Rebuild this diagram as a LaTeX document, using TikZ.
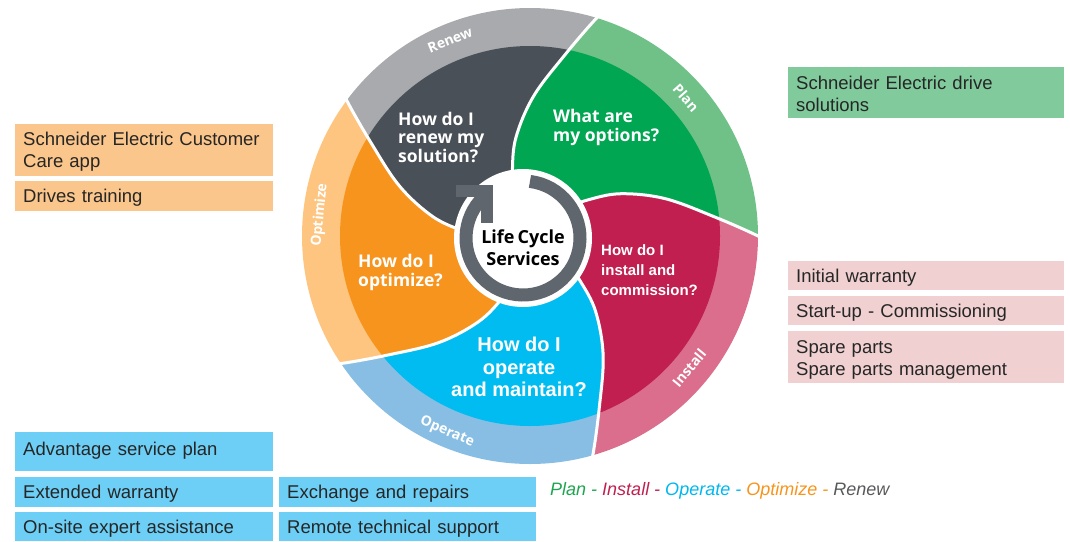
\documentclass[tikz,border=0pt]{standalone}
\usepackage{fontspec}
\setmainfont{Liberation Sans}
\newfontfamily\wheelfont{Open Sans}
\definecolor{txt}{HTML}{262626}
\definecolor{boxO}{HTML}{FBC68B}
\definecolor{boxG}{HTML}{80CA9C}
\definecolor{boxP}{HTML}{F0D0D0}
\definecolor{boxB}{HTML}{6DCFF6}
\definecolor{planD}{HTML}{00A651}
\definecolor{planL}{HTML}{70C188}
\definecolor{renD}{HTML}{4A5058}
\definecolor{renL}{HTML}{A8AAAD}
\definecolor{optD}{HTML}{F7941D}
\definecolor{optL}{HTML}{FDC57F}
\definecolor{opeD}{HTML}{00BCF1}
\definecolor{opeL}{HTML}{89BEE4}
\definecolor{insD}{HTML}{C01F50}
\definecolor{insL}{HTML}{DB6E8C}
\definecolor{ringG}{HTML}{5F666D}
\definecolor{legPlan}{HTML}{1EA550}
\definecolor{legIns}{HTML}{C0204F}
\definecolor{legOpe}{HTML}{00B7F0}
\definecolor{legOpt}{HTML}{F7941D}
\definecolor{legRen}{HTML}{58595B}
\newcommand\mySpiral[1]{plot[smooth,tension=0.6] coordinates {({#1-2.5}:245) ({#1}:228) ({#1+6}:185) ({#1+15.5}:140) ({#1+25}:100) ({#1+32}:68) ({#1+38}:45)}}
\newcommand\mySeg[2]{plot[smooth,tension=0.6] coordinates {({#1-2.5}:245) ({#1}:228) ({#1+6}:185) ({#1+15.5}:140) ({#1+25}:100) ({#1+32}:68) ({#1+38}:45)} -- (0,0) -- plot[smooth,tension=0.6] coordinates {({#2+38}:45) ({#2+32}:68) ({#2+25}:100) ({#2+15.5}:140) ({#2+6}:185) ({#2}:228) ({#2-2.5}:245)} arc[start angle={#2-2.5}, end angle={#1-2.5}, radius=245] -- cycle}
\begin{document}
\begin{tikzpicture}[x=1pt,y=1pt,
  box/.style={anchor=north west, inner xsep=8pt, inner ysep=0pt, align=left, text=txt, font=\fontsize{18.5}{22}\selectfont},
  one/.style={text depth=0pt},
  two/.style={text height=17pt},
  lbox/.style={box, text width=242pt},
  rbox/.style={box, text width=260pt},
  wq/.style={anchor=west, align=left, text=white, inner sep=0pt},
  bandlab/.style={text=white, inner sep=0pt, font=\wheelfont\bfseries\fontsize{14}{16}\selectfont}
]
\useasboundingbox (0,0) rectangle (1070,-541);

% ---- wheel ----
\begin{scope}[shift={(530,-236)}]
  \begin{scope}
    \clip (0,0) circle[radius=228];
    \fill[planL] \mySeg{0}{73};
    \fill[renL] \mySeg{73}{143.5};
    \fill[optL] \mySeg{143.5}{214};
    \fill[opeL] \mySeg{214}{286};
    \fill[insL] \mySeg{286}{360};
  \end{scope}
  \begin{scope}
    \clip (0,0) circle[radius=190];
    \fill[planD] \mySeg{0}{73};
    \fill[renD] \mySeg{73}{143.5};
    \fill[optD] \mySeg{143.5}{214};
    \fill[opeD] \mySeg{214}{286};
    \fill[insD] \mySeg{286}{360};
  \end{scope}
  \foreach \t in {0,73,143.5,214,286} \draw[white, line width=3] \mySpiral{\t};
  \fill[white] (-7,-2) circle[radius=69];
  \draw[ringG, line width=13] (-7,-2) ++(83:57) arc[start angle=83, end angle=-232, radius=57];
  \draw[ringG, line width=12, line join=miter] (-74,45) -- (-43,45) -- (-43,13);
\end{scope}

% ---- band labels ----
\node[bandlab, rotate=22] (lren) at (450,-40) {Renew};
\node[bandlab, rotate=-48.5] (lplan) at (686,-98) {Plan};
\node[bandlab, rotate=84.3] (lopt) at (320,-215) {Optimize};
\node[bandlab, rotate=50.3] (lins) at (689,-368) {Install};
\node[bandlab, rotate=-23] (lope) at (447,-432) {Operate};

% ---- wheel texts ----
\node[font=\wheelfont\bfseries\fontsize{18}{22}\selectfont, align=center, inner sep=0pt, text=black] (lcs) at (523,-248) {Life\,Cycle\\Services};
\node[wq, font=\wheelfont\bfseries\fontsize{17.5}{18.5}\selectfont] (qren) at (398,-137) {How do I\\renew my\\solution?};
\node[wq, font=\wheelfont\bfseries\fontsize{17.5}{19}\selectfont] (qplan) at (553,-127.5) {What are\\my options?};
\node[wq, font=\wheelfont\bfseries\fontsize{17.5}{19}\selectfont] (qopt) at (358,-272.5) {How do I\\optimize?};
\node[wq, font=\bfseries\fontsize{15}{20}\selectfont] (qins) at (601,-270) {How do I\\install and\\commission?};
\node[align=center, text=white, inner sep=0pt, font=\bfseries\fontsize{20}{22.5}\selectfont] (qope) at (519,-367) {How do I\\operate\\and maintain?};

% ---- boxes ----
\node[lbox, two, fill=boxO, minimum height=52pt] (o1) at (15,-124) {Schneider Electric Customer\\Care app};
\node[lbox, one, fill=boxO, minimum height=30pt] (o2) at (15,-181) {Drives training};
\node[rbox, fill=boxG, minimum height=51pt, text height=15.5pt] (g1) at (788,-67) {Schneider Electric drive\\solutions};
\node[rbox, one, fill=boxP, minimum height=29pt] (p1) at (788,-261) {Initial warranty};
\node[rbox, one, fill=boxP, minimum height=29pt] (p2) at (788,-296) {Start-up - Commissioning};
\node[rbox, fill=boxP, minimum height=52pt, text height=18pt] (p3) at (788,-331) {Spare parts\\Spare parts management};
\node[lbox, fill=boxB, minimum height=39pt, text depth=6pt] (b1) at (15,-432) {Advantage service plan};
\node[lbox, one, fill=boxB, minimum height=30pt] (b2) at (15,-477) {Extended warranty};
\node[box, one, text width=241pt, fill=boxB, minimum height=30pt] (b3) at (279,-477) {Exchange and repairs};
\node[lbox, one, fill=boxB, minimum height=29pt] (b4) at (15,-512) {On-site expert assistance};
\node[box, one, text width=241pt, fill=boxB, minimum height=29pt] (b5) at (279,-512) {Remote technical support};

% ---- legend ----
\node[anchor=west, inner sep=0pt, font=\itshape\fontsize{18}{22}\selectfont] (legend) at (550,-491)
  {\textcolor{legPlan}{Plan -} \textcolor{legIns}{Install -} \textcolor{legOpe}{Operate -} \textcolor{legOpt}{Optimize -} \textcolor{legRen}{Renew}};
\end{tikzpicture}
\end{document}
